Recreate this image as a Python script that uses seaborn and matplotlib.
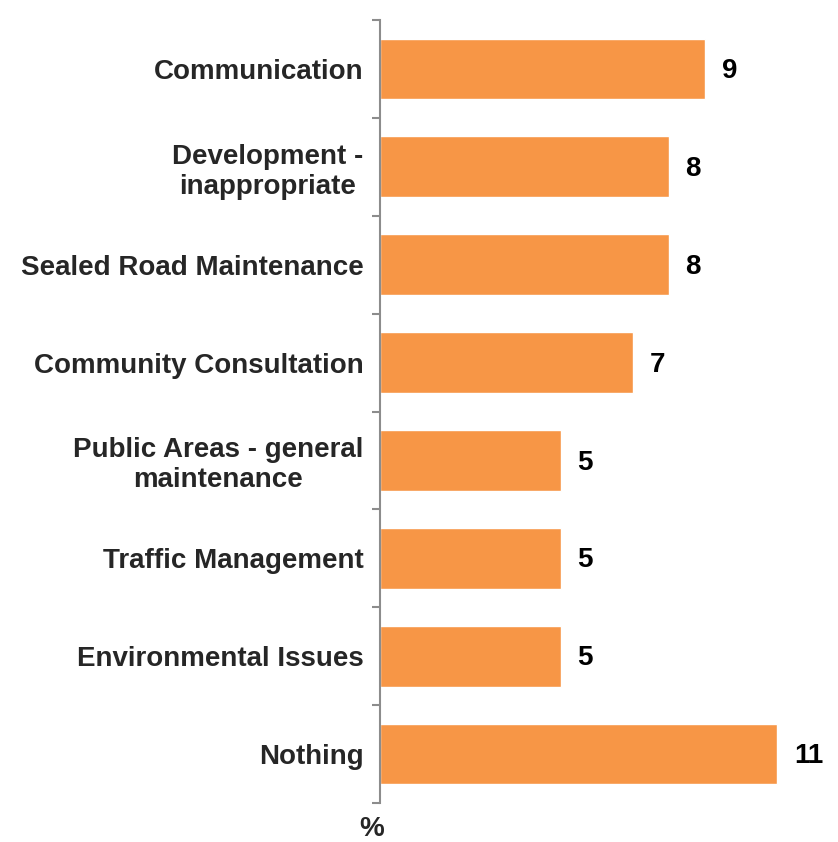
import matplotlib
matplotlib.use("Agg")
import matplotlib.pyplot as plt
import seaborn as sns
import pandas as pd
import numpy as np

categories = [
    "Communication",
    "Development -\ninappropriate",
    "Sealed Road Maintenance",
    "Community Consultation",
    "Public Areas - general\nmaintenance",
    "Traffic Management",
    "Environmental Issues",
    "Nothing",
]
values = [9, 8, 8, 7, 5, 5, 5, 11]

sns.set_theme(style="white")
plt.rcParams["font.family"] = ["Liberation Sans", "DejaVu Sans"]

df = pd.DataFrame({"category": categories, "value": values})

fig = plt.figure(figsize=(8.38, 8.42), dpi=100)
W, H = 838, 842
ax = fig.add_axes([380 / W, 1 - 803 / H, (820 - 380) / W, (803 - 20) / H])

sns.barplot(data=df, x="value", y="category", orient="h", color="#F79646",
            saturation=1, width=0.62, ax=ax)

ax.set_xlim(0, 440 / 36.1)
ax.set_ylim(len(categories) - 0.5, -0.5)

for s in ["top", "right", "bottom"]:
    ax.spines[s].set_visible(False)
ax.spines["left"].set_color("#8c8c8c")
ax.spines["left"].set_linewidth(1.5)

ax.set_xticks([])
ax.set_xlabel("")
ax.set_ylabel("")
ax.tick_params(axis="y", which="major", length=0, pad=12)
ax.set_yticks(np.arange(-0.5, len(categories), 1.0), minor=True)
ax.tick_params(axis="y", which="minor", length=6, width=1.5, color="#8c8c8c", left=True)
for lbl in ax.get_yticklabels():
    lbl.set_fontsize(20)
    lbl.set_fontweight("bold")
    lbl.set_color("#262626")
    lbl.set_multialignment("center")

for i, v in enumerate(values):
    ax.annotate(str(v), xy=(v, i), xytext=(12, -1.5), textcoords="offset points",
                ha="left", va="center", fontsize=20, fontweight="bold", color="black")

fig.text(372 / W, 1 - 829 / H, "%", ha="center", va="center",
         fontsize=20, fontweight="bold", color="#262626")

fig.savefig("out.png", dpi=100)
